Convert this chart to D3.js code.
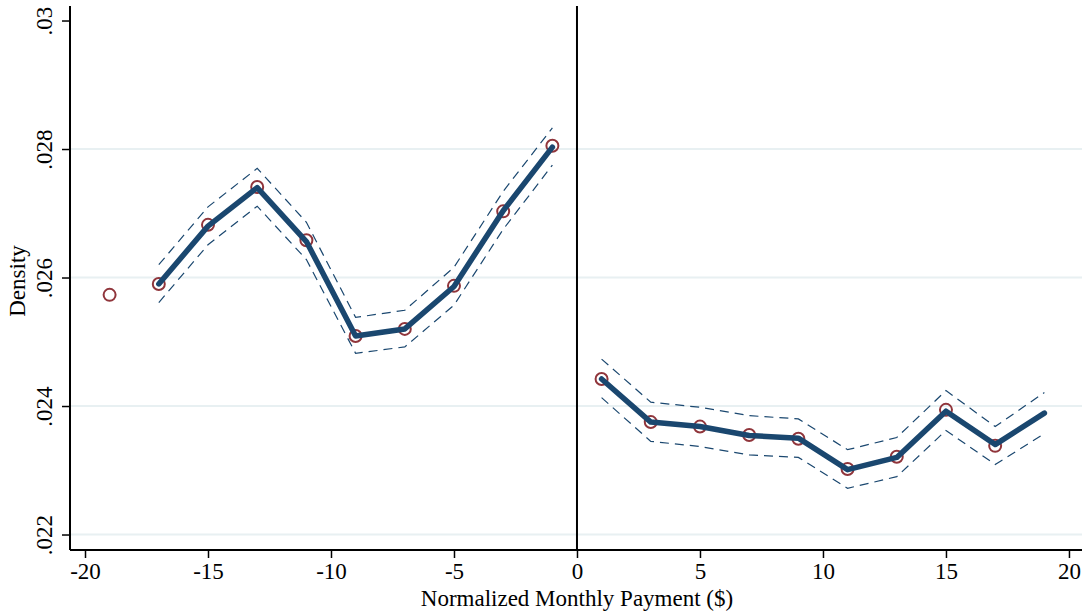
<!DOCTYPE html>
<html lang="en">
<head>
<meta charset="UTF-8">
<title>Density</title>
<script src="https://cdn.jsdelivr.net/npm/d3@7"></script>
<style>
  body { margin: 0; background: #fff; }
  svg text { font-family: "Liberation Serif", "Times New Roman", serif; fill: #000; }
</style>
</head>
<body>
<svg id="chart" width="1087" height="614"></svg>
<script>
// bins (x), observed density (circles)
var binX = [-19, -17, -15, -13, -11, -9, -7, -5, -3, -1, 1, 3, 5, 7, 9, 11, 13, 15, 17];
var binY = [.02573, .02590, .02682, .02741, .02658, .02509, .02520, .02587, .02703, .02805,
            .02442, .02375, .02368, .02355, .02349, .02302, .02321, .02394, .02338];

// fitted line + confidence band, left of cutoff
var leftX     = [-17, -15, -13, -11, -9, -7, -5, -3, -1];
var leftFit   = [.02590, .02680, .02740, .02656, .02509, .02520, .02586, .02704, .02803];
var leftUpper = [.02620, .02710, .02770, .02686, .02538, .02549, .02616, .02734, .02833];
var leftLower = [.02561, .02651, .02711, .02628, .02482, .02492, .02557, .02675, .02775];

// right of cutoff
var rightX     = [1, 3, 5, 7, 9, 11, 13, 15, 17, 19];
var rightFit   = [.02442, .02375, .02368, .02354, .02350, .02301, .02320, .02392, .02340, .02389];
var rightUpper = [.02473, .02406, .02398, .02385, .02380, .02332, .02351, .02424, .02368, .02421];
var rightLower = [.02413, .02345, .02337, .02324, .02320, .02272, .02290, .02362, .02309, .02357];

var xTicks = [-20, -15, -10, -5, 0, 5, 10, 15, 20];
var yTicks = [.022, .024, .026, .028, .03];
var yGrid  = [.022, .024, .026, .028];

var pLeft = 70, pRight = 1082, pTop = 6, pBottom = 550;

var svg = d3.select("#chart");

var x = d3.scaleLinear().domain([-20.61, 20.53]).range([pLeft, pRight]);
var y = d3.scaleLinear().domain([.021759, .030226]).range([pBottom, pTop]);

var navy = "#1a476f", maroon = "#90353b";

// grid
svg.append("g").selectAll("line")
  .data(yGrid).enter().append("line")
  .attr("x1", pLeft).attr("x2", pRight)
  .attr("y1", function(d){ return y(d); })
  .attr("y2", function(d){ return y(d); })
  .attr("stroke", "#e8f0f2").attr("stroke-width", 2);

// cutoff line
svg.append("line")
  .attr("x1", x(0)).attr("x2", x(0))
  .attr("y1", pTop).attr("y2", pBottom)
  .attr("stroke", "#000").attr("stroke-width", 2);

// circles
svg.append("g").selectAll("circle")
  .data(binX).enter().append("circle")
  .attr("cx", function(d){ return x(d); })
  .attr("cy", function(d, i){ return y(binY[i]); })
  .attr("r", 6)
  .attr("fill", "none")
  .attr("stroke", maroon).attr("stroke-width", 2);

function drawSide(xs, fit, up, lo) {
  var line = function(vals) {
    return d3.line().x(function(d){ return x(d); }).y(function(d, i){ return y(vals[i]); })(xs);
  };
  [up, lo].forEach(function(v) {
    svg.append("path").attr("d", line(v))
      .attr("fill", "none").attr("stroke", navy)
      .attr("stroke-width", 1.2).attr("stroke-dasharray", "9,6");
  });
  svg.append("path").attr("d", line(fit))
    .attr("fill", "none").attr("stroke", navy)
    .attr("stroke-width", 5.5).attr("stroke-linejoin", "round").attr("stroke-linecap", "round");
}
drawSide(leftX, leftFit, leftUpper, leftLower);
drawSide(rightX, rightFit, rightUpper, rightLower);

// axes
var yAxis = svg.append("g").attr("transform", "translate(" + pLeft + ",0)")
  .call(d3.axisLeft(y).tickValues(yTicks).tickSize(8).tickPadding(0)
        .tickFormat(function(d){ return d3.format(".3f")(d).replace(/^0/, "").replace(/0$/, ""); }));
yAxis.select(".domain").attr("d", "M0," + pTop + "V" + pBottom).attr("stroke-width", 2);
yAxis.selectAll(".tick line").attr("stroke-width", 1.5);
yAxis.selectAll(".tick text")
  .attr("font-size", 23).attr("x", null).attr("dy", null)
  .attr("text-anchor", "middle")
  .attr("transform", "translate(-18,0) rotate(-90)");

var xAxis = svg.append("g").attr("transform", "translate(0," + pBottom + ")")
  .call(d3.axisBottom(x).tickValues(xTicks).tickSize(8).tickPadding(5)
        .tickFormat(function(d){ return String(d); }));
xAxis.select(".domain").attr("d", "M" + pLeft + ",0H" + pRight).attr("stroke-width", 2);
xAxis.selectAll(".tick line").attr("stroke-width", 1.5);
xAxis.selectAll(".tick text").attr("font-size", 23);

// titles
svg.append("text")
  .attr("x", x(0)).attr("y", 606)
  .attr("text-anchor", "middle").attr("font-size", 23)
  .text("Normalized Monthly Payment ($)");

svg.append("text")
  .attr("transform", "translate(25," + ((pTop + pBottom) / 2 + 3) + ") rotate(-90)")
  .attr("text-anchor", "middle").attr("font-size", 23)
  .text("Density");
</script>
</body>
</html>
